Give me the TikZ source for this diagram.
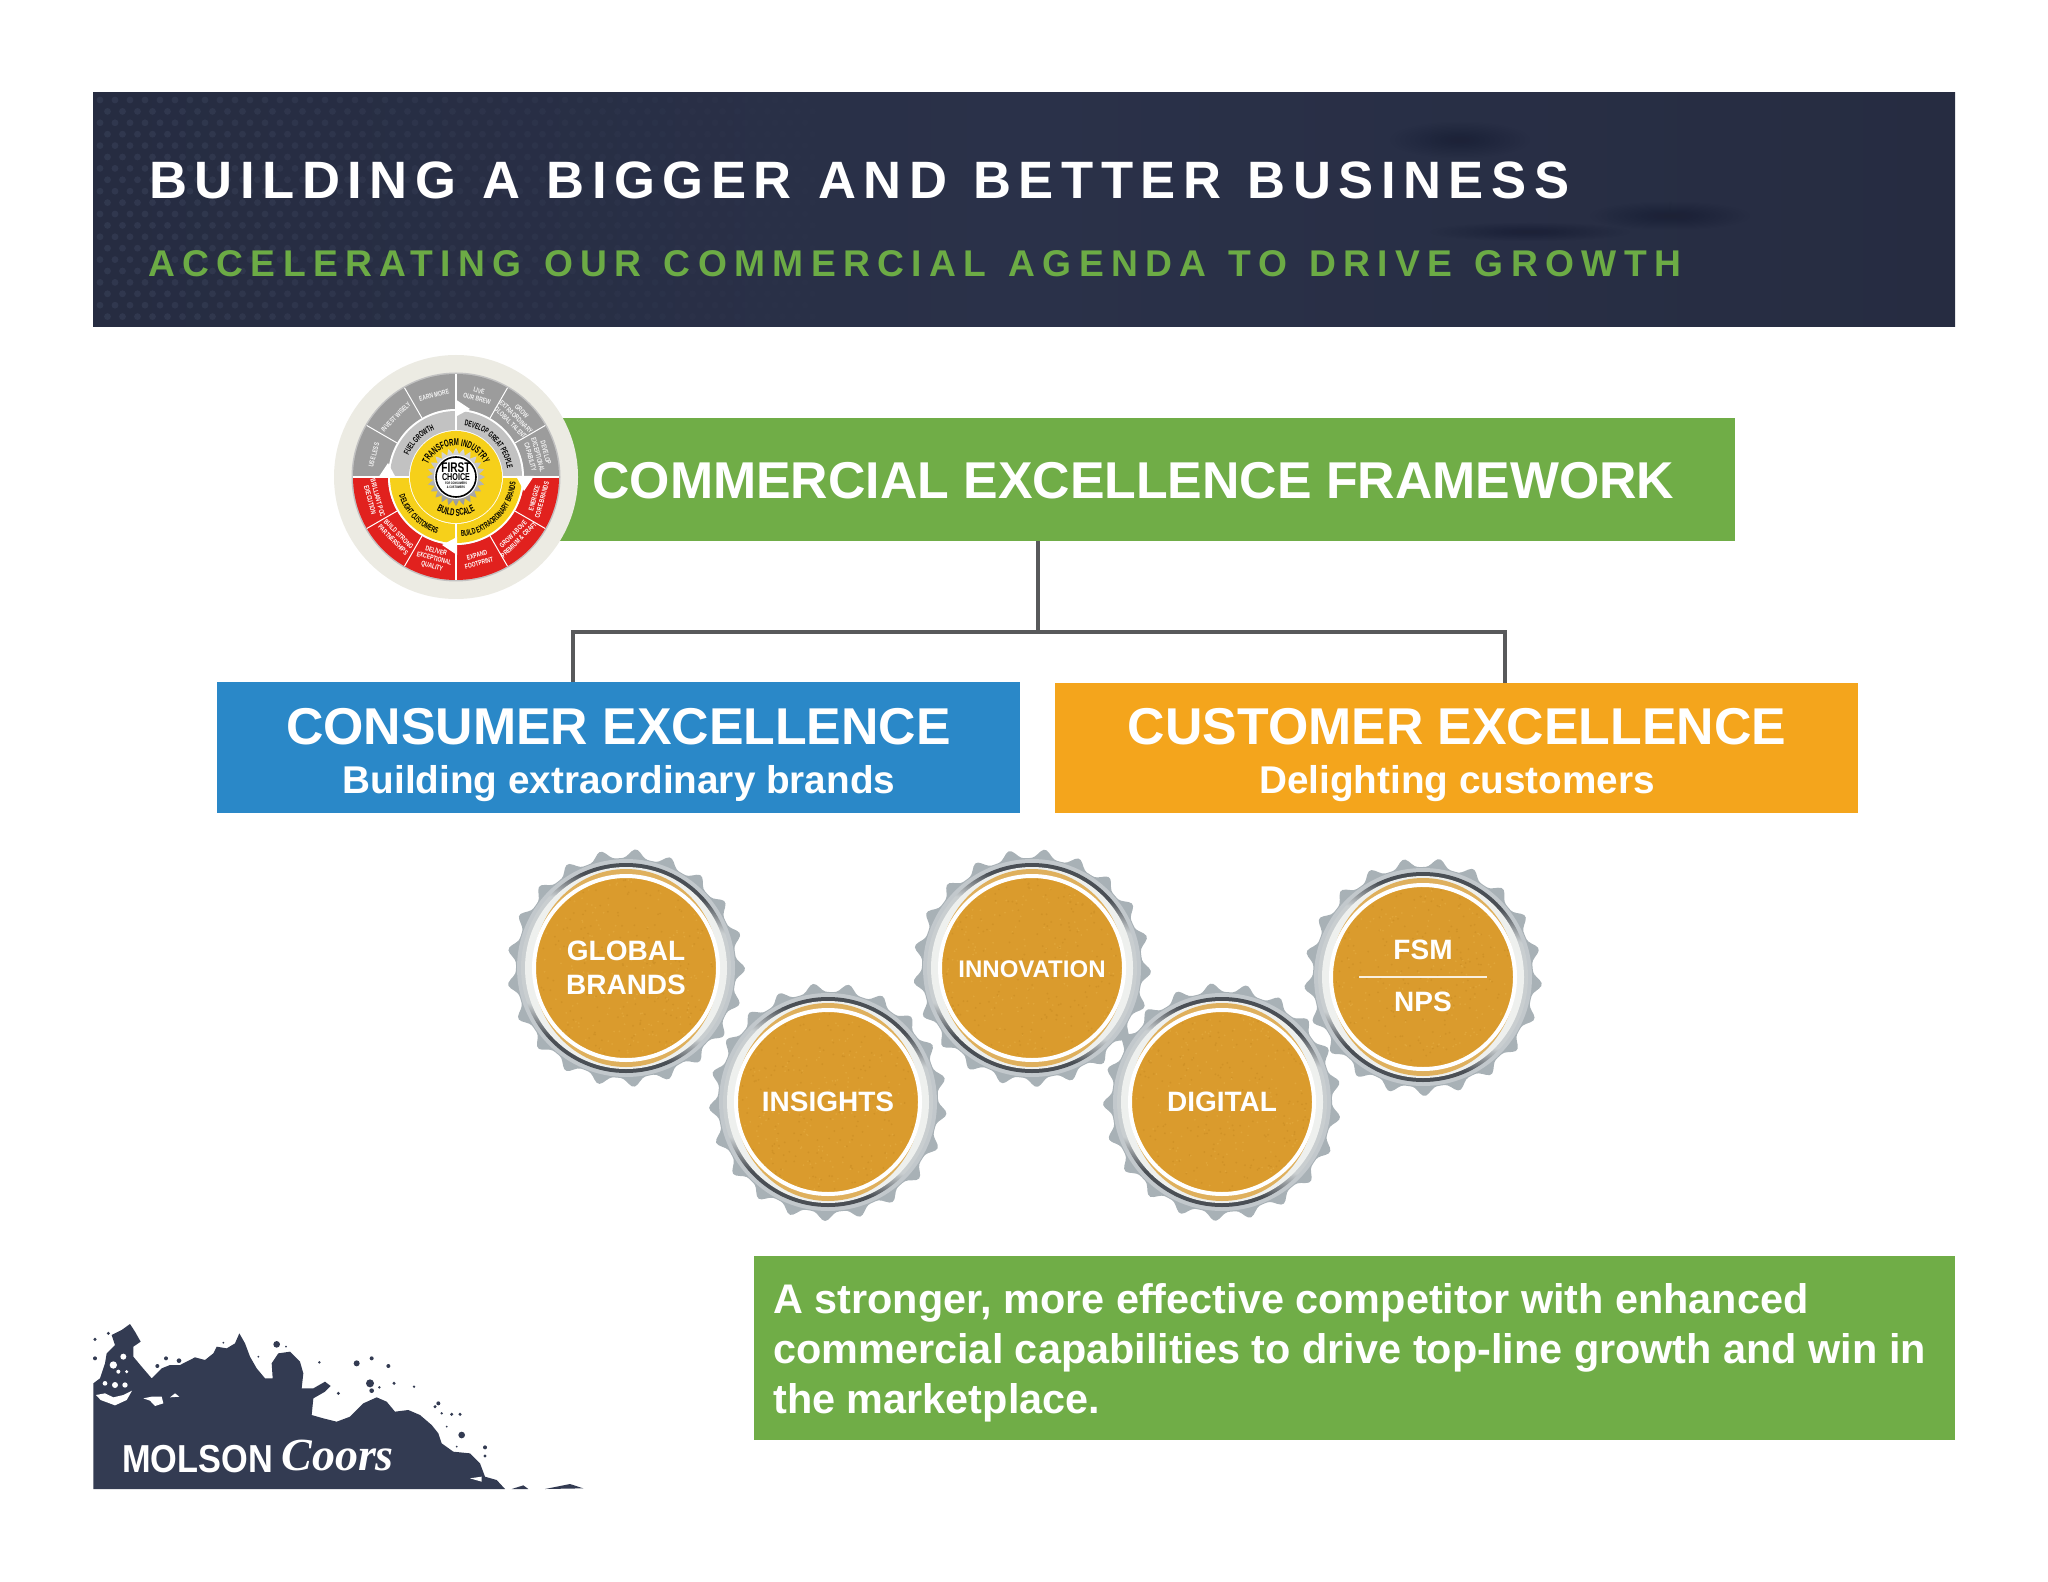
\documentclass[tikz,border=0pt]{standalone}
\usepackage{fontspec}
\usetikzlibrary{decorations.text}
\setmainfont{Liberation Sans}
\newfontfamily\titlef[LetterSpace=14.3,WordSpace=1.186]{Liberation Sans}
\newfontfamily\subf[LetterSpace=19.7,WordSpace=1.27]{Liberation Sans}
\newfontfamily\narrowf[FakeStretch=0.72]{Liberation Sans}
\newfontfamily\arcf[FakeStretch=0.6]{Liberation Sans}
\newfontfamily\logof[FakeStretch=0.88]{Liberation Sans}
\newfontfamily\coorsf{Liberation Serif}
\definecolor{navy}{HTML}{262C41}
\definecolor{navyb}{HTML}{2A3149}
\definecolor{navyl}{HTML}{2F3853}
\definecolor{navyd}{HTML}{1D2233}
\definecolor{navydot}{HTML}{3A425A}
\definecolor{hgreen}{HTML}{6CAB45}
\definecolor{bargreen}{HTML}{70AD47}
\definecolor{cblue}{HTML}{2A88C8}
\definecolor{corange}{HTML}{F4A51C}
\definecolor{conn}{HTML}{58595B}
\definecolor{toothc}{HTML}{A8B1B6}
\definecolor{gold}{HTML}{DA9B2D}
\definecolor{goldl}{HTML}{E0A539}
\definecolor{goldd}{HTML}{D09227}
\definecolor{pale}{HTML}{EEF0EE}
\definecolor{steeld}{HTML}{4A4F55}
\definecolor{steell}{HTML}{C9CED0}
\definecolor{cream}{HTML}{ECEBE3}
\definecolor{wgrey}{HTML}{9C9C9C}
\definecolor{wgreyl}{HTML}{C2C2C2}
\definecolor{wred}{HTML}{E1211E}
\definecolor{wyel}{HTML}{F6D01A}
\definecolor{logoc}{HTML}{333B52}
\pgfdeclareverticalshading{capsteel}{100bp}{color(0bp)=(steeld);color(30bp)=(steeld);color(37bp)=(steell);color(63bp)=(steell);color(70bp)=(steeld);color(100bp)=(steeld)}
\tikzset{
  flatbox/.style={rectangle,draw=none,inner sep=0pt,outer sep=0pt},
  wire/.style={draw=conn,line width=2pt},
  captext/.style={text=white,font=\bfseries\fontsize{14}{16}\selectfont,anchor=base,inner sep=0pt},
  boxhead/.style={text=white,font=\bfseries\fontsize{25.9}{30}\selectfont,anchor=base,inner sep=0pt},
  boxsub/.style={text=white,font=\bfseries\fontsize{19.35}{23}\selectfont,anchor=base,inner sep=0pt},
  resulttext/.style={text=white,font=\bfseries\fontsize{20.7}{24}\selectfont,anchor=base west,inner sep=0pt},
  wtext/.style={font=\narrowf\bfseries\fontsize{3.5}{4}\selectfont,align=center,inner sep=0pt},
}
% px-based bottle cap: x, y, tooth phase
\newcommand\bottlecap[3]{%
  \begin{scope}[shift={(#1,#2)},x=0.5pt,y=0.5pt]
    \fill[toothc] plot[domain=0:360,samples=253] ({(110+9*pow(0.5+0.5*cos(21*\x+#3),2))*cos(\x)},{(110+9*pow(0.5+0.5*cos(21*\x+#3),2))*sin(\x)}) -- cycle;
    \fill[toothc!70!white] (0,0) circle[radius=109];
    \shade[shading=capsteel,shading angle=-12] (0,0) circle[radius=105];
    \fill[pale] (0,0) circle[radius=101];
    \fill[gold!75!pale] (0,0) ellipse[x radius=93,y radius=99];
    \fill[gold] (0,0) circle[radius=92];
    \foreach \i in {1,...,170}{%
      \pgfmathsetmacro\aa{360*rnd}\pgfmathsetmacro\bb{90*sqrt(rnd)}%
      \fill[goldl] (\aa:\bb) circle[radius=1];
      \pgfmathsetmacro\aa{360*rnd}\pgfmathsetmacro\bb{90*sqrt(rnd)}%
      \fill[goldd] (\aa:\bb) circle[radius=1];
    }
    \draw[white,line width=2pt] (0,0) circle[radius=92];
  \end{scope}}
\newcommand\annseg[5]{%
  \fill[#5] (#1:#4) arc[start angle=#1,end angle=#2,radius=#4] -- (#2:#3) arc[start angle=#2,end angle=#1,radius=#3] -- cycle;}
\newcommand\wseg[4]{\node[wtext,rotate=#2,text=#3] (seg#1) at (#1:85) {#4};}
\newcommand\blot[5]{%
  \foreach \k in {1,...,14}{\fill[#5,opacity=.035] (#1,#2) ellipse[x radius=#3*\k/14,y radius=#4*\k/14];}}
\begin{document}
\begin{tikzpicture}[x=0.5pt,y=-0.5pt]
\useasboundingbox (0,0) rectangle (2048,1582);
\pgfmathsetseed{4711}
% ---- header
\node[flatbox,minimum width=931pt,minimum height=117pt,anchor=north west,left color=navy,right color=navy,middle color=navyb] (header) at (93,93) {};
\foreach \r in {0,...,19}{
  \pgfmathsetmacro\yy{100+\r*11.4}
  \pgfmathsetmacro\xo{mod(\r,2)*7.5}
  \foreach \c in {0,...,52}{
    \pgfmathsetmacro\xx{100+\c*15+\xo}
    \pgfmathsetmacro\op{max(0,0.55*(1-\c/53))}
    \fill[navydot,opacity=\op] (\xx,\yy) circle[radius=3.4];
  }
}
\blot{1460}{140}{70}{18}{navyd}
\blot{1670}{216}{80}{14}{navyd}
\blot{1530}{232}{100}{9}{navyd}
\blot{1580}{170}{70}{60}{navyl}
\blot{1000}{250}{200}{60}{navyl}
\node[anchor=base west,inner sep=0pt,text=white,font=\titlef\bfseries\fontsize{26.3}{30}\selectfont] (title) at (149,199) {BUILDING A BIGGER AND BETTER BUSINESS};
\node[anchor=base west,inner sep=0pt,text=hgreen,font=\subf\bfseries\fontsize{18.6}{22}\selectfont] (subtitle) at (148,277) {ACCELERATING OUR COMMERCIAL AGENDA TO DRIVE GROWTH};
% ---- boxes
\node[flatbox,fill=bargreen,minimum width=587.5pt,minimum height=61.5pt,anchor=north west] (framework) at (560,418) {};
\node[flatbox,fill=cblue,minimum width=401.5pt,minimum height=65.5pt,anchor=north west] (consumer) at (217,682) {};
\node[flatbox,fill=corange,minimum width=401.5pt,minimum height=65pt,anchor=north west] (customer) at (1055,683) {};
\node[flatbox,fill=bargreen,minimum width=600.5pt,minimum height=92pt,anchor=north west] (result) at (754,1256) {};
\node[boxhead,anchor=base west] (frameworklabel) at (592,499) {COMMERCIAL EXCELLENCE FRAMEWORK};
\node[boxhead] (consumerlabel) at (618.5,744) {CONSUMER EXCELLENCE};
\node[boxsub] (consumersub) at (619,793) {Building extraordinary brands};
\node[boxhead] (customerlabel) at (1457,744) {CUSTOMER EXCELLENCE};
\node[boxsub] (customersub) at (1457,793) {Delighting customers};
\node[resulttext] (resulta) at (773,1313) {A stronger, more effective competitor with enhanced};
\node[resulttext] (resultb) at (773,1363) {commercial capabilities to drive top-line growth and win in};
\node[resulttext] (resultc) at (773,1413) {the marketplace.};
% ---- connectors
\coordinate (junction) at (1038,632);
\coordinate (dropa) at (573,632);
\coordinate (dropb) at (1505,632);
\draw[wire] (framework.south -| junction) -- (junction);
\draw[wire,line cap=rect] (dropa) -- (dropb);
\draw[wire] (dropa) -- (consumer.north -| dropa);
\draw[wire] (dropb) -- (customer.north -| dropb);
% ---- wheel
\begin{scope}[shift={(456,477)},x=0.5pt,y=0.5pt]
  \fill[cream] (0,0) circle[radius=122];
  \fill[wgreyl] (0,0) circle[radius=104.5];
  \annseg{0}{180}{68}{103}{wgrey}
  \annseg{180}{360}{68}{103}{wred}
  \fill[white] (0,0) circle[radius=68];
  \annseg{0}{90}{47}{66}{wgreyl}
  \annseg{90}{180}{47}{66}{wgreyl}
  \annseg{180}{360}{47}{66}{wyel}
  \fill[wyel] (0,0) circle[radius=46];
  \foreach \a in {30,60,120,150,210,240,300,330}{\draw[white,line width=.5pt] (\a:68) -- (\a:103);}
  \foreach \a in {0,90,180,270}{\draw[white,line width=.8pt] (\a:47) -- (\a:103);}
  \fill[white] (-1,78) -- (14,68) -- (-1,60) -- cycle;
  \fill[white] (78,1) -- (68,-14) -- (60,1) -- cycle;
  \fill[white] (1,-78) -- (-14,-68) -- (1,-60) -- cycle;
  \fill[white] (-78,-1) -- (-68,14) -- (-60,-1) -- cycle;
  \wseg{75}{-15}{white!88!wgrey}{LIVE\\OUR BREW}
  \wseg{45}{-45}{white!88!wgrey}{GROW\\EXTRAORDINARY\\GLOBAL TALENT}
  \wseg{15}{-75}{white!88!wgrey}{DEVELOP\\EXCEPTIONAL\\CAPABILITY}
  \wseg{-15}{75}{white}{ENERGIZE\\CORE BRANDS}
  \wseg{-45}{45}{white}{GROW ABOVE\\PREMIUM \& CRAFT}
  \wseg{-75}{15}{white}{EXPAND\\FOOTPRINT}
  \wseg{-105}{-15}{white}{DELIVER\\EXCEPTIONAL\\QUALITY}
  \wseg{-135}{-45}{white}{BUILD STRONG\\PARTNERSHIPS}
  \wseg{-165}{-75}{white}{BRILLIANT POC\\EXECUTION}
  \wseg{165}{75}{white!88!wgrey}{USE LESS}
  \wseg{135}{45}{white!88!wgrey}{INVEST WISELY}
  \wseg{105}{15}{white!88!wgrey}{EARN MORE}
  % curved labels
  \path[decorate,decoration={text along path,text align=center,text={|\arcf\bfseries\fontsize{5}{5}\selectfont|TRANSFORM INDUSTRY}}] (170:31) arc[start angle=170,end angle=10,radius=31];
  \path[decorate,decoration={text along path,text align=center,text={|\arcf\bfseries\fontsize{5}{5}\selectfont|BUILD SCALE}}] (200:39) arc[start angle=200,end angle=340,radius=39];
  \path[decorate,decoration={text along path,text align=center,text={|\arcf\bfseries\fontsize{4.2}{5}\selectfont|FUEL GROWTH}}] (175:52) arc[start angle=175,end angle=95,radius=52];
  \path[decorate,decoration={text along path,text align=center,text={|\arcf\bfseries\fontsize{4.2}{5}\selectfont|DEVELOP GREAT PEOPLE}}] (88:52) arc[start angle=88,end angle=2,radius=52];
  \path[decorate,decoration={text along path,text align=center,text={|\arcf\bfseries\fontsize{4.2}{5}\selectfont|DELIGHT CUSTOMERS}}] (185:60) arc[start angle=185,end angle=265,radius=60];
  \path[decorate,decoration={text along path,text align=center,text={|\arcf\bfseries\fontsize{4.2}{5}\selectfont|BUILD EXTRAORDINARY BRANDS}}] (272:60) arc[start angle=272,end angle=358,radius=60];
  % seal
  \shade[top color=gray!30,bottom color=gray!80] plot[domain=0:360,samples=97] ({(26+3*cos(24*\x))*cos(\x)},{(26+3*cos(24*\x))*sin(\x)}) -- cycle;
  \fill[white] (0,0) circle[radius=22];
  \draw[black,line width=.8pt] (0,0) circle[radius=20];
  \node[font=\narrowf\bfseries\fontsize{7}{7}\selectfont,anchor=base,inner sep=0pt] (sealfirst) at (0,4) {FIRST};
  \node[font=\narrowf\bfseries\fontsize{5}{5}\selectfont,anchor=base,inner sep=0pt] (sealchoice) at (0,-4) {CHOICE};
  \node[font=\narrowf\bfseries\fontsize{1.7}{2}\selectfont,anchor=base,inner sep=0pt] (sealfor) at (0,-8) {FOR CONSUMERS};
  \node[font=\narrowf\bfseries\fontsize{1.7}{2}\selectfont,anchor=base,inner sep=0pt] (sealamp) at (0,-12) {\& CUSTOMERS};
\end{scope}
% ---- caps
\bottlecap{626}{968}{10}
\bottlecap{1032}{968}{40}
\bottlecap{1423}{977}{75}
\bottlecap{828}{1102}{120}
\bottlecap{1222}{1102}{160}
\node[captext] (capa) at (626,960) {GLOBAL};
\node[captext] (capb) at (626,994) {BRANDS};
\node[captext] (capc) at (828,1111) {INSIGHTS};
\node[captext,font=\bfseries\fontsize{12}{15}\selectfont] (capd) at (1032,977) {INNOVATION};
\node[captext] (cape) at (1222,1111) {DIGITAL};
\node[captext] (capf) at (1423,959) {FSM};
\node[captext] (capg) at (1423,1011) {NPS};
\coordinate (fsml) at (1359,977);
\coordinate (fsmr) at (1487,977);
\draw[white!85!gold,line width=.8pt] (fsml) -- (fsmr);
% ---- logo, traced in a 3x zoom grid
\begin{scope}[shift={(80,1300)},x=0.16667pt,y=-0.16667pt]
  \fill[logoc] (40,567) -- (40,250) -- (60,235) -- (75,190) -- (80,160) -- (105,135) -- (95,105) -- (125,90) -- (150,72) -- (165,95) -- (182,125) -- (160,140) -- (160,170) -- (185,200) -- (215,235) -- (245,205) -- (270,195) -- (300,195) -- (345,172) -- (375,180) -- (400,160) -- (410,140) -- (440,145) -- (465,130) -- (478,100) -- (495,130) -- (510,170) -- (530,205) -- (555,235) -- (578,235) -- (575,190) -- (595,160) -- (630,155) -- (660,185) -- (670,220) -- (665,265) -- (700,265) -- (735,245) -- (752,258) -- (735,275) -- (700,295) -- (695,345) -- (730,355) -- (770,365) -- (810,350) -- (850,310) -- (890,292) -- (920,305) -- (945,335) -- (985,330) -- (1020,345) -- (1055,375) -- (1075,400) -- (1085,430) -- (1120,455) -- (1170,460) -- (1200,490) -- (1215,530) -- (1250,540) -- (1275,567) -- cycle;
  \fill[white] (48,285) -- (62,300) -- (105,316) -- (140,300) -- (156,272) -- (130,285) -- (100,292) -- (75,280) -- cycle;
  \fill[white] (100,195) circle[radius=11] (130,170) circle[radius=9] (105,255) circle[radius=9] (135,255) circle[radius=8] (115,215) circle[radius=6] (75,250) circle[radius=7] (140,215) circle[radius=5];
  \fill[white] (190,295) -- (215,290) -- (245,290) -- (250,310) -- (225,318) -- (210,302) -- cycle;
  \fill[white] (270,292) -- (285,280) -- (298,290) -- cycle;
  \fill[white] (1170,535) -- (1205,530) -- (1205,545) -- cycle;
  \foreach \px/\py/\pr in {45/118/5,45/175/6,85/100/5,258/175/6,297/182/7,232/198/6,830/190/9,875/175/6,925/198/6,870/250/12,875/272/7,942/250/5,1002/260/4,898/262/4,718/187/4,775/280/5,1075/310/6,1065/320/5,1085/340/4,1115/343/5,1140/343/5,1145/405/10,1215/442/6,1215/468/5,1100/380/3,1130/440/3,590/133/10,618/140/3,535/170/3,430/128/3}{
    \fill[logoc] (\px,\py) circle[radius=\pr];
  }
  \fill[logoc] (1295,567) -- (1330,556) -- (1345,567) -- cycle;
  \fill[logoc] (1395,567) -- (1470,552) -- (1510,565) -- cycle;
\end{scope}
\node[anchor=base west,inner sep=0pt,text=white,font=\logof\bfseries\fontsize{19.5}{22}\selectfont] (molson) at (122,1472) {MOLSON};
\node[anchor=base west,inner sep=0pt,text=white,font=\coorsf\bfseries\itshape\fontsize{23}{26}\selectfont] (coors) at (281,1470) {Coors};
\end{tikzpicture}
\end{document}
